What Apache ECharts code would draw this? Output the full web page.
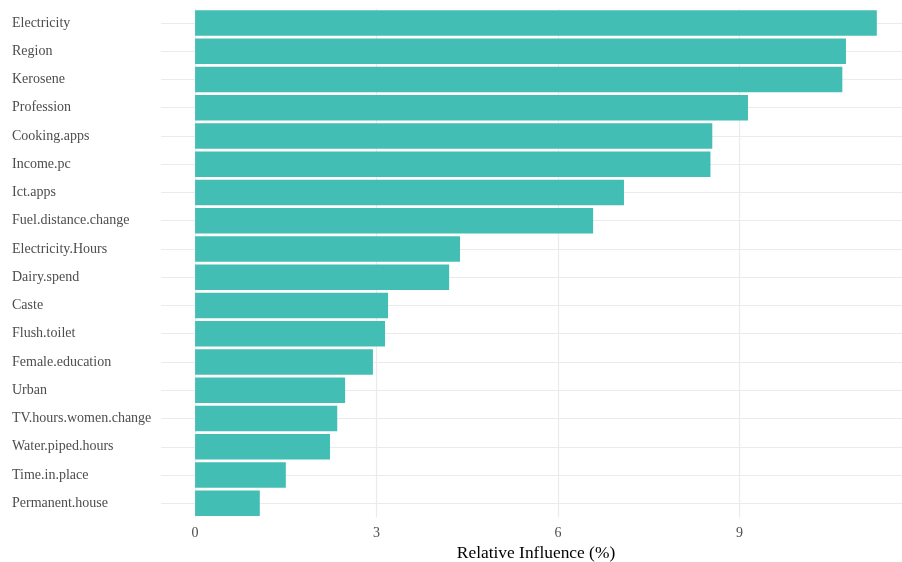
<!DOCTYPE html>
<html>
<head>
<meta charset="utf-8">
<script src="https://cdn.jsdelivr.net/npm/echarts@6/dist/echarts.min.js"></script>
<style>html,body{margin:0;padding:0;background:#fff;}#c{width:902px;height:562px;}</style>
</head>
<body>
<div id="c"></div>
<script>
const categories = ["Electricity","Region","Kerosene","Profession","Cooking.apps","Income.pc","Ict.apps","Fuel.distance.change","Electricity.Hours","Dairy.spend","Caste","Flush.toilet","Female.education","Urban","TV.hours.women.change","Water.piped.hours","Time.in.place","Permanent.house"];
const influence = [11.27,10.76,10.70,9.14,8.55,8.52,7.09,6.58,4.38,4.20,3.19,3.14,2.94,2.48,2.35,2.23,1.50,1.07];
const xTicks = [0,3,6,9];
const xTitle = "Relative Influence (%)";

const grid = '#ebebeb';
const chart = echarts.init(document.getElementById('c'), null, {renderer:'canvas'});
const gridLines = categories.map(c => ({yAxis: c}))
  .concat(xTicks.map(v => ({xAxis: v})));
chart.setOption({
  animation: false,
  backgroundColor: '#ffffff',
  grid: {left: 161, top: 8.8, width: 750, height: 508.6, containLabel: false, outerBoundsMode: 'none'},
  xAxis: {
    type: 'value', min: -0.5635, max: 11.835,
    name: xTitle, nameLocation: 'middle', nameGap: 28,
    nameTextStyle: {fontFamily: 'Liberation Serif', fontSize: 17.4, color: '#000'},
    axisLine: {show: false}, axisTick: {show: false}, splitLine: {show: false},
    axisLabel: {customValues: xTicks, fontFamily: 'Liberation Serif', fontSize: 14, color: '#4d4d4d', margin: 9}
  },
  yAxis: {
    type: 'category', data: categories, inverse: true,
    axisLine: {show: false}, axisTick: {show: false}, splitLine: {show: false},
    axisLabel: {align: 'left', margin: 149, fontFamily: 'Liberation Serif', fontSize: 14, color: '#4d4d4d'}
  },
  series: [
    {
      type: 'line', data: categories.map(() => null), symbol: 'none', z: 0, silent: true,
      markLine: {
        z: 0, silent: true, symbol: 'none', label: {show: false},
        lineStyle: {color: grid, width: 1.2, type: 'solid'},
        data: gridLines
      }
    },
    {
      type: 'bar', data: influence, barWidth: '90%', z: 3,
      itemStyle: {color: '#43beb5'}
    }
  ]
});
</script>
</body>
</html>
